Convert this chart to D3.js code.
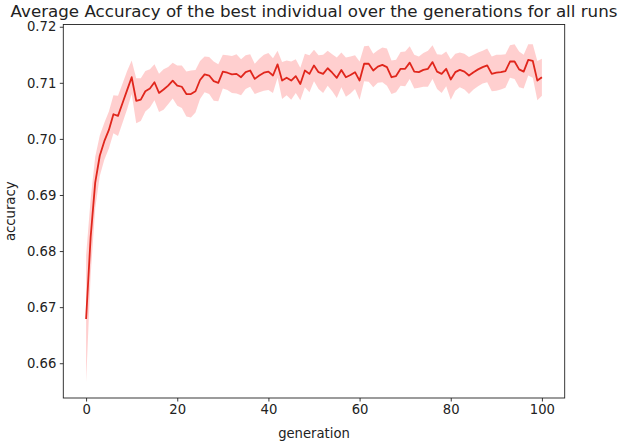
<!DOCTYPE html>
<html>
<head>
<meta charset="utf-8">
<script src="https://cdn.jsdelivr.net/npm/d3@7"></script>
<style>
  body { margin: 0; background: #fff; }
  text { font-family: "DejaVu Sans", sans-serif; fill: #222; }
</style>
</head>
<body>
<div id="chart"></div>
<script>
// mean accuracy of the best individual, generation 0..100
var meanAcc = [
  0.6679, 0.6825, 0.6922, 0.6970, 0.6996, 0.7016, 0.7044, 0.7041, 0.7064, 0.7087,
  0.7110, 0.7068, 0.7070, 0.7085, 0.7090, 0.7101, 0.7082, 0.7088, 0.7095, 0.7104,
  0.7095, 0.7093, 0.7080, 0.7080, 0.7085, 0.7105, 0.7115, 0.7113, 0.7103, 0.7100,
  0.7120, 0.7118, 0.7115, 0.7116, 0.7110, 0.7119, 0.7122, 0.7107, 0.7113, 0.7118,
  0.7120, 0.7113, 0.7133, 0.7104, 0.7109, 0.7104, 0.7112, 0.7098, 0.7122, 0.7116,
  0.7131, 0.7119, 0.7116, 0.7126, 0.7118, 0.7109, 0.7123, 0.7110, 0.7114, 0.7119,
  0.7104, 0.7134, 0.7134, 0.7122, 0.7129, 0.7132, 0.7128, 0.7110, 0.7112, 0.7125,
  0.7125, 0.7136, 0.7120, 0.7119, 0.7123, 0.7125, 0.7137, 0.7120, 0.7116, 0.7125,
  0.7106, 0.7119, 0.7123, 0.7120, 0.7113, 0.7119, 0.7124, 0.7128, 0.7131, 0.7116,
  0.7118, 0.7119, 0.7121, 0.7138, 0.7138, 0.7124, 0.7120, 0.7141, 0.7139, 0.7104,
  0.7110
];
// half width of the shaded band
var bandHalf = [
  0.0113, 0.0068, 0.0046, 0.0036, 0.0033, 0.0033, 0.0034, 0.0036, 0.0035, 0.0034,
  0.0030, 0.0040, 0.0038, 0.0036, 0.0034, 0.0032, 0.0034, 0.0036, 0.0033, 0.0032,
  0.0036, 0.0038, 0.0040, 0.0042, 0.0038, 0.0034, 0.0032, 0.0033, 0.0035, 0.0033,
  0.0030, 0.0031, 0.0033, 0.0035, 0.0032, 0.0030, 0.0029, 0.0027, 0.0030, 0.0032,
  0.0033, 0.0031, 0.0024, 0.0033, 0.0031, 0.0034, 0.0030, 0.0029, 0.0030, 0.0033,
  0.0028, 0.0030, 0.0034, 0.0031, 0.0033, 0.0036, 0.0031, 0.0035, 0.0033, 0.0030,
  0.0034, 0.0031, 0.0032, 0.0030, 0.0029, 0.0031, 0.0033, 0.0030, 0.0029, 0.0030,
  0.0031, 0.0029, 0.0030, 0.0028, 0.0030, 0.0032, 0.0030, 0.0031, 0.0034, 0.0031,
  0.0036, 0.0033, 0.0031, 0.0032, 0.0033, 0.0031, 0.0030, 0.0029, 0.0030, 0.0031,
  0.0032, 0.0031, 0.0030, 0.0029, 0.0031, 0.0032, 0.0030, 0.0028, 0.0030, 0.0035,
  0.0033
];
var xTicks = [0, 20, 40, 60, 80, 100];
var yTicks = [0.66, 0.67, 0.68, 0.69, 0.70, 0.71, 0.72];

var W = 621, H = 445;
var box = { left: 63.3, right: 564.7, top: 24.5, bottom: 398 };

var data = meanAcc.map(function(m, i) {
  return { gen: i, mean: m, lo: m - bandHalf[i], hi: m + bandHalf[i] };
});

var svg = d3.select("#chart").append("svg")
  .attr("width", W)
  .attr("height", H);

var x = d3.scaleLinear().domain([-5, 105]).range([box.left, box.right]);
var y = d3.scaleLinear().domain([0.6538, 0.7204]).range([box.bottom, box.top]);

// band
var area = d3.area()
  .x(function(d) { return x(d.gen); })
  .y0(function(d) { return y(d.lo); })
  .y1(function(d) { return y(d.hi); });
svg.append("path")
  .datum(data)
  .attr("d", area)
  .attr("fill", "red")
  .attr("fill-opacity", 0.19)
  .attr("stroke", "none");

// mean line
var line = d3.line()
  .x(function(d) { return x(d.gen); })
  .y(function(d) { return y(d.mean); });
svg.append("path")
  .datum(data)
  .attr("d", line)
  .attr("fill", "none")
  .attr("stroke", "#e0261c")
  .attr("stroke-width", 1.8)
  .attr("stroke-linejoin", "round");

// axes
var xAxis = d3.axisBottom(x).tickValues(xTicks).tickSize(3.5).tickPadding(3.5);
var yAxis = d3.axisLeft(y).tickValues(yTicks).tickFormat(d3.format(".2f")).tickSize(3.5).tickPadding(3.5);

var gx = svg.append("g")
  .attr("transform", "translate(0," + box.bottom + ")")
  .call(xAxis);
var gy = svg.append("g")
  .attr("transform", "translate(" + box.left + ",0)")
  .call(yAxis);
[gx, gy].forEach(function(g) {
  g.select(".domain").remove();
  g.selectAll("line").attr("stroke", "#222").attr("stroke-width", 0.9);
  g.selectAll("text").style("font-size", "13.2px").style("font-family", "DejaVu Sans, sans-serif").attr("fill", "#222");
});

// frame
svg.append("rect")
  .attr("x", box.left)
  .attr("y", box.top)
  .attr("width", box.right - box.left)
  .attr("height", box.bottom - box.top)
  .attr("fill", "none")
  .attr("stroke", "#222")
  .attr("stroke-width", 0.9);

svg.append("text")
  .attr("x", (box.left + box.right) / 2)
  .attr("y", 17)
  .attr("text-anchor", "middle")
  .style("font-size", "16.7px")
  .text("Average Accuracy of the best individual over the generations for all runs");

svg.append("text")
  .attr("x", (box.left + box.right) / 2)
  .attr("y", 438)
  .attr("text-anchor", "middle")
  .style("font-size", "13.2px")
  .text("generation");

svg.append("text")
  .attr("transform", "translate(15," + ((box.top + box.bottom) / 2) + ")rotate(-90)")
  .attr("text-anchor", "middle")
  .style("font-size", "13.2px")
  .text("accuracy");
</script>
</body>
</html>
